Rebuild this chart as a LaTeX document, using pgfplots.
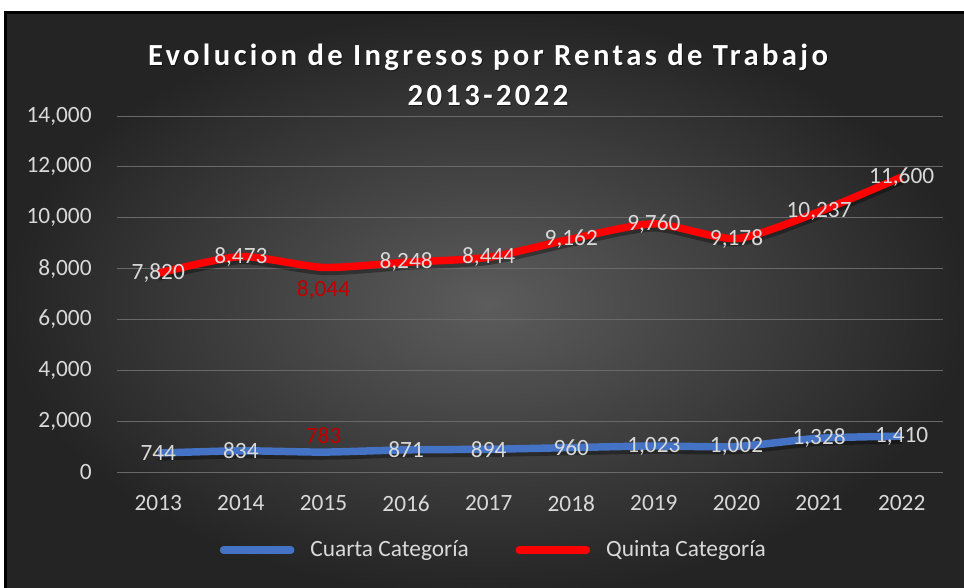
\documentclass[border=0pt]{standalone}
\usepackage{fontspec}
\setmainfont{Carlito}
\newfontfamily\titlefont[LetterSpace=11]{Carlito}
\usepackage{pgfplots}
\pgfplotsset{compat=1.18}
\definecolor{bgin}{RGB}{92,92,92}
\definecolor{bgout}{RGB}{36,36,36}
\definecolor{lbl}{RGB}{217,217,217}
\definecolor{grd}{RGB}{105,105,105}
\definecolor{cblue}{RGB}{68,114,196}
\definecolor{cred}{RGB}{255,0,0}
\definecolor{lblred}{RGB}{190,0,0}
\begin{document}
\begin{tikzpicture}
\useasboundingbox (0pt,0pt) rectangle (723pt,440.25pt);
\clip (0pt,0pt) rectangle (723pt,440.25pt);
\fill[white] (0pt,0pt) rectangle (723pt,440.25pt);
\shade[inner color=bgin, outer color=bgout] (3.75pt,430.5pt) rectangle (729pt,-6pt);
\draw[black, line width=2.25pt] (3.75pt,430.5pt) rectangle (729pt,-6pt);
\node[font=\titlefont\bfseries\fontsize{23}{30}\selectfont, text=black, opacity=0.5, align=center] at (366.75pt,383.25pt) {Evolucion de Ingresos por Rentas de Trabajo\\2013-2022};
\node[font=\titlefont\bfseries\fontsize{23}{30}\selectfont, text=white, align=center] at (366pt,384pt) {Evolucion de Ingresos por Rentas de Trabajo\\2013-2022};
\begin{axis}[
  at={(87.75pt,86.25pt)}, anchor=south west,
  width=619.5pt, height=267pt, scale only axis,
  xmin=-0.5, xmax=9.5, ymin=0, ymax=14000,
  ytick={0,2000,...,14000},
  xtick={0,...,9},
  xticklabels={2013,2014,2015,2016,2017,2018,2019,2020,2021,2022},
  /pgf/number format/assume math mode=true,
  /pgf/number format/1000 sep={,},
  scaled y ticks=false,
  axis line style={draw=none},
  major tick style={draw=none},
  ymajorgrids,
  major grid style={grd, line width=0.75pt},
  ticklabel style={font=\fontsize{17.5}{21}\selectfont, text=lbl},
  yticklabel style={xshift=-15.5pt},
  xticklabel style={yshift=-14pt},
  legend style={draw=none, fill=none, legend columns=2, text=lbl,
    font=\fontsize{17.5}{21}\selectfont,
    at={(0.4566,-0.219)}, anchor=center,
    /tikz/every odd column/.append style={column sep=10pt},
    /tikz/every even column/.append style={column sep=33pt}},
  legend image code/.code={\draw[#1, line cap=round] (2.6pt,0pt) -- (53pt,0pt);},
  every node near coord/.append style={font=\fontsize{17.5}{21}\selectfont, text=lbl, anchor=center},
]
% shadows
\addplot[black, opacity=0.35, line width=6.5pt, smooth, tension=0.4, yshift=-2.5pt, forget plot] coordinates {
(0,744)(1,834)(2,783)(3,871)(4,894)(5,960)(6,1023)(7,1002)(8,1328)(9,1410)};
\addplot[black, opacity=0.35, line width=6.5pt, smooth, tension=0.4, yshift=-2.5pt, forget plot] coordinates {
(0,7820)(1,8473)(2,8044)(3,8248)(4,8444)(5,9162)(6,9760)(7,9178)(8,10237)(9,11600)};
% lines
\addplot[cblue, line width=5.6pt, smooth, tension=0.4, mark=none] coordinates {
(0,744)(1,834)(2,783)(3,871)(4,894)(5,960)(6,1023)(7,1002)(8,1328)(9,1410)};
\addlegendentry{Cuarta Categoría}
\addplot[cred, line width=5.6pt, smooth, tension=0.4, mark=none] coordinates {
(0,7820)(1,8473)(2,8044)(3,8248)(4,8444)(5,9162)(6,9760)(7,9178)(8,10237)(9,11600)};
\addlegendentry{Quinta Categoría}
% labels
\addplot[draw=none, mark=none, forget plot, nodes near coords] coordinates {
(0,744)(1,834)(3,871)(4,894)(5,960)(6,1023)(7,1002)(8,1328)(9,1410)};
\addplot[draw=none, mark=none, forget plot, nodes near coords] coordinates {
(0,7820)(1,8473)(3,8248)(4,8444)(5,9162)(6,9760)(7,9178)(8,10237)(9,11600)};
\addplot[draw=none, mark=none, forget plot, nodes near coords,
  every node near coord/.append style={text=lblred, yshift=12pt}] coordinates {(2,783)};
\addplot[draw=none, mark=none, forget plot, nodes near coords,
  every node near coord/.append style={text=lblred, yshift=-17pt}] coordinates {(2,8044)};
\end{axis}
\end{tikzpicture}
\end{document}
